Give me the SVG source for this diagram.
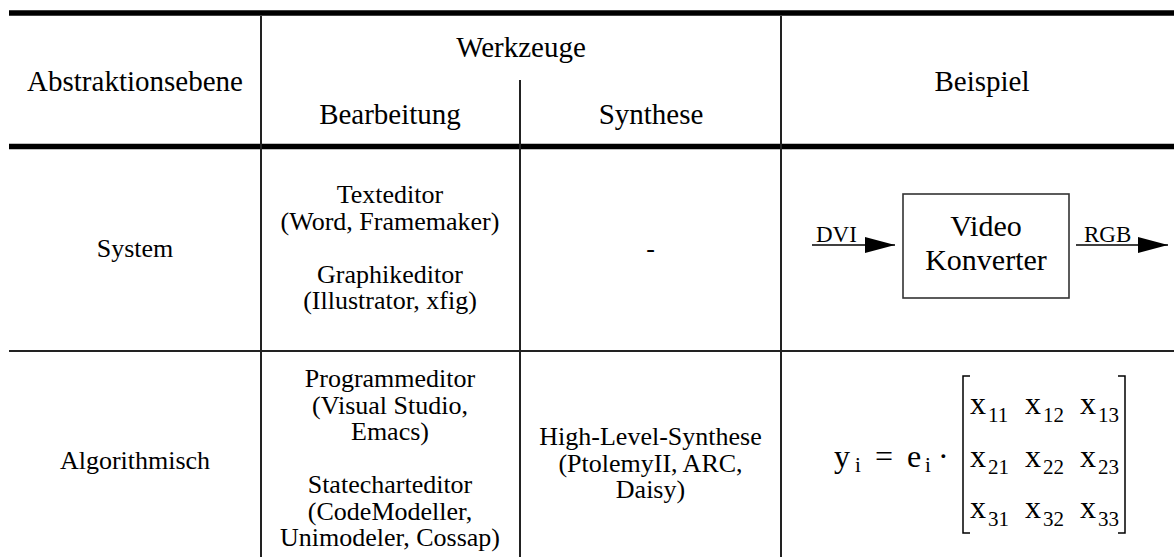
<svg xmlns="http://www.w3.org/2000/svg" width="1174" height="557" viewBox="0 0 1174 557">
  <style>
    text { font-family: "Liberation Serif", "Times New Roman", serif; fill: #000; }
    .hd { font-size: 29px; text-anchor: middle; }
    .bd { font-size: 26px; text-anchor: middle; }
    .thick { stroke: #000; stroke-width: 5.5; fill: none; }
    .thin { stroke: #222; stroke-width: 2; fill: none; }
    .box { stroke: #333; stroke-width: 1.6; fill: #fff; }
    .wire { stroke: #000; stroke-width: 1.5; fill: none; }
    .sig { font-size: 23px; }
    .blk { font-size: 30px; text-anchor: middle; }
    .eq { font-size: 32px; }
    .sub { font-size: 21px; }
  </style>
  <defs>
    <marker id="arrow" viewBox="0 0 30 16" refX="30" refY="8" markerWidth="30" markerHeight="16" markerUnits="userSpaceOnUse" orient="auto">
      <path d="M0,0 L30,8 L0,16 Z" fill="#000"/>
    </marker>
  </defs>

  <!-- table rules -->
  <g id="grid">
    <line class="thick" x1="9" y1="13" x2="1174" y2="13"/>
    <line class="thick" x1="9" y1="146.5" x2="1174" y2="146.5"/>
    <line class="thin" x1="9" y1="351" x2="1174" y2="351"/>
    <line class="thin" x1="261" y1="16" x2="261" y2="557"/>
    <line class="thin" x1="520" y1="80" x2="520" y2="557"/>
    <line class="thin" x1="781" y1="16" x2="781" y2="557"/>
  </g>

  <!-- header row -->
  <g id="header">
    <text class="hd" x="135" y="91">Abstraktionsebene</text>
    <text class="hd" x="521" y="57">Werkzeuge</text>
    <text class="hd" x="390" y="124">Bearbeitung</text>
    <text class="hd" x="651" y="124">Synthese</text>
    <text class="hd" x="982" y="91">Beispiel</text>
  </g>

  <!-- row: System -->
  <g id="row-system">
    <text class="bd" x="135" y="257">System</text>
    <text class="bd" x="390" y="203">Texteditor</text>
    <text class="bd" x="390" y="229.5">(Word, Framemaker)</text>
    <text class="bd" x="390" y="282.5">Graphikeditor</text>
    <text class="bd" x="390" y="309">(Illustrator, xfig)</text>
    <text class="bd" x="650.5" y="257">-</text>
  </g>

  <!-- example block -->
  <g id="video-konverter">
    <rect class="box" x="903" y="194" width="166" height="104"/>
    <text class="blk" x="986" y="236">Video</text>
    <text class="blk" x="986" y="270">Konverter</text>
  </g>

  <g id="connectors">
    <line class="wire" x1="812" y1="245" x2="895" y2="245" marker-end="url(#arrow)"/>
    <line class="wire" x1="1076" y1="245" x2="1168" y2="245" marker-end="url(#arrow)"/>
    <text class="sig" x="816" y="242">DVI</text>
    <text class="sig" x="1084" y="242">RGB</text>
  </g>

  <!-- row: Algorithmisch -->
  <g id="row-algorithmisch">
    <text class="bd" x="135" y="469">Algorithmisch</text>
    <text class="bd" x="390" y="387">Programmeditor</text>
    <text class="bd" x="390" y="413.5">(Visual Studio,</text>
    <text class="bd" x="390" y="440">Emacs)</text>
    <text class="bd" x="390" y="493">Statecharteditor</text>
    <text class="bd" x="390" y="519.5">(CodeModeller,</text>
    <text class="bd" x="390" y="546">Unimodeler, Cossap)</text>
    <text class="bd" x="650.5" y="445">High-Level-Synthese</text>
    <text class="bd" x="650.5" y="471.5">(PtolemyII, ARC,</text>
    <text class="bd" x="650.5" y="498">Daisy)</text>
  </g>

  <!-- equation y_i = e_i * X -->
  <g id="equation">
    <text class="eq" x="834" y="467">y</text>
    <text class="sub" x="855" y="472">i</text>
    <text class="eq" x="875" y="467">=</text>
    <text class="eq" x="907" y="467">e</text>
    <text class="sub" x="925" y="472">i</text>
    <text class="eq" x="938" y="467">·</text>
    <path class="wire" d="M970,376 L963,376 L963,533 L970,533"/>
    <path class="wire" d="M1118,376 L1125,376 L1125,533 L1118,533"/>
    <g class="eq">
      <text x="970" y="414">x</text><text class="sub" x="988" y="422">11</text>
      <text x="1025" y="414">x</text><text class="sub" x="1043" y="422">12</text>
      <text x="1080" y="414">x</text><text class="sub" x="1098" y="422">13</text>
      <text x="970" y="467">x</text><text class="sub" x="988" y="474">21</text>
      <text x="1025" y="467">x</text><text class="sub" x="1043" y="474">22</text>
      <text x="1080" y="467">x</text><text class="sub" x="1098" y="474">23</text>
      <text x="970" y="518">x</text><text class="sub" x="988" y="526">31</text>
      <text x="1025" y="518">x</text><text class="sub" x="1043" y="526">32</text>
      <text x="1080" y="518">x</text><text class="sub" x="1098" y="526">33</text>
    </g>
  </g>
</svg>
